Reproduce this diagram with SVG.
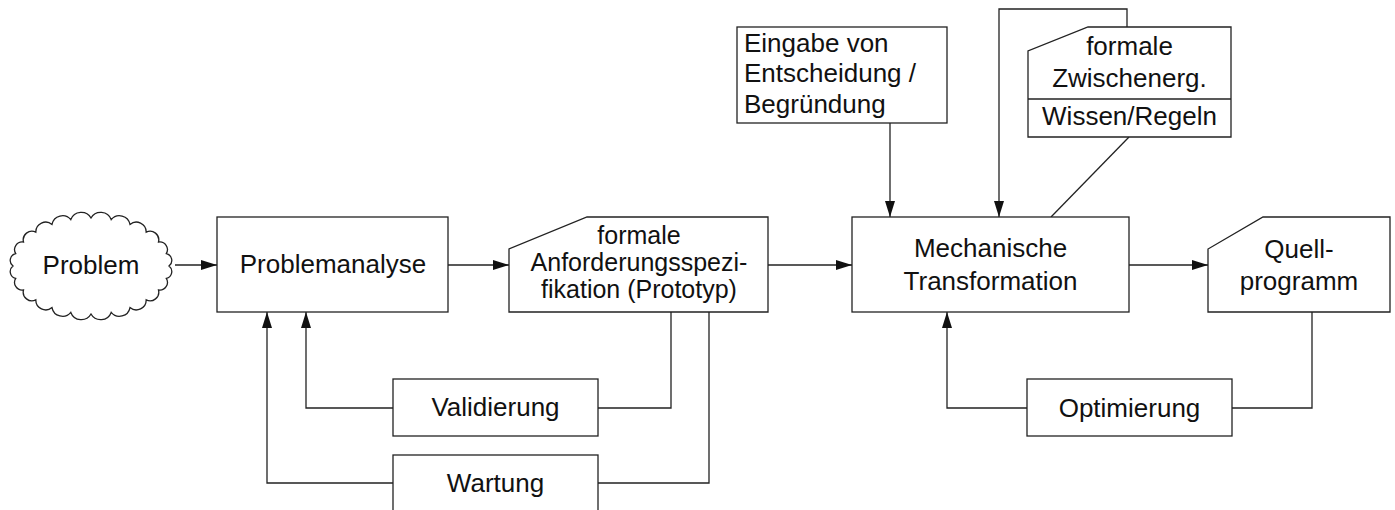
<svg xmlns="http://www.w3.org/2000/svg" width="1395" height="510" viewBox="0 0 1395 510">
<style>
.n{fill:#fff;stroke:#222;stroke-width:1.3}
.c{fill:none;stroke:#222;stroke-width:1.3}
text{font-family:"Liberation Sans",Arial,sans-serif;font-size:26px;fill:#111}
.m{text-anchor:middle}
</style>
<defs>
<marker id="ah" markerUnits="userSpaceOnUse" markerWidth="17" markerHeight="11" refX="16" refY="5" orient="auto">
<path d="M0,0 L16,5 L0,10 Z" fill="#111"/>
</marker>
</defs>
<rect width="1395" height="510" fill="#fff"/>
<g id="connectors">
<path class="c" d="M175,265 H217" marker-end="url(#ah)"/>
<path class="c" d="M448,265 H509" marker-end="url(#ah)"/>
<path class="c" d="M768,265 H852" marker-end="url(#ah)"/>
<path class="c" d="M1129,265 H1208" marker-end="url(#ah)"/>
<path class="c" d="M890,123 V217" marker-end="url(#ah)"/>
<path class="c" d="M1127,27 V9 H999 V217" marker-end="url(#ah)"/>
<path class="c" d="M1129,137 L1051,217"/>
<path class="c" d="M1312,312 V408 H1232"/>
<path class="c" d="M1027,408 H947 V312" marker-end="url(#ah)"/>
<path class="c" d="M671,312 V408 H598"/>
<path class="c" d="M393,408 H306 V312" marker-end="url(#ah)"/>
<path class="c" d="M709,312 V483 H598"/>
<path class="c" d="M393,483 H267 V312" marker-end="url(#ah)"/>
</g>
<g id="problem">
<path class="n" d="M169,266 A7,7 0 0 1 166.3,278.4 A7.7,7.7 0 0 1 158.5,290 A8.7,8.7 0 0 1 146.2,299.9 A9.9,9.9 0 0 1 130,307.6 A10.7,10.7 0 0 1 111.2,312.4 A11.2,11.2 0 0 1 91,314 A11.2,11.2 0 0 1 70.8,312.4 A10.7,10.7 0 0 1 52,307.6 A9.9,9.9 0 0 1 35.8,299.9 A8.7,8.7 0 0 1 23.5,290 A7.7,7.7 0 0 1 15.7,278.4 A7,7 0 0 1 13,266 A7,7 0 0 1 15.7,253.6 A7.7,7.7 0 0 1 23.5,242 A8.7,8.7 0 0 1 35.8,232.1 A9.9,9.9 0 0 1 52,224.4 A10.7,10.7 0 0 1 70.8,219.6 A11.2,11.2 0 0 1 91,218 A11.2,11.2 0 0 1 111.2,219.6 A10.7,10.7 0 0 1 130,224.4 A9.9,9.9 0 0 1 146.2,232.1 A8.7,8.7 0 0 1 158.5,242 A7.7,7.7 0 0 1 166.3,253.6 A7,7 0 0 1 169,266 Z"/>
<text class="m" x="91" y="274">Problem</text>
</g>
<g id="problemanalyse">
<rect class="n" x="217" y="217" width="231" height="95"/>
<text class="m" x="333" y="273">Problemanalyse</text>
</g>
<g id="spezifikation">
<path class="n" d="M587,217 H768 V312 H509 V249 Z"/>
<text class="m" x="639" y="244" style="font-size:25px">formale</text>
<text class="m" x="639" y="271" style="font-size:25px">Anforderungsspezi-</text>
<text class="m" x="639" y="298" style="font-size:25px">fikation (Prototyp)</text>
</g>
<g id="transformation">
<rect class="n" x="852" y="217" width="277" height="95"/>
<text class="m" x="990.5" y="257">Mechanische</text>
<text class="m" x="990.5" y="290">Transformation</text>
</g>
<g id="quellprogramm">
<path class="n" d="M1263,217 H1390 V312 H1208 V249 Z"/>
<text class="m" x="1299" y="258">Quell-</text>
<text class="m" x="1299" y="290">programm</text>
</g>
<g id="eingabe">
<rect class="n" x="737" y="27" width="210" height="96"/>
<text x="744" y="52">Eingabe von</text>
<text x="744" y="82">Entscheidung /</text>
<text x="744" y="113">Begründung</text>
</g>
<g id="zwischenergebnis">
<path class="n" d="M1088,27 H1231 V137 H1028 V51 Z"/>
<path class="c" d="M1028,99 H1231"/>
<text class="m" x="1129.5" y="55">formale</text>
<text class="m" x="1129.5" y="87">Zwischenerg.</text>
<text class="m" x="1129.5" y="125">Wissen/Regeln</text>
</g>
<g id="validierung">
<rect class="n" x="393" y="379" width="205" height="57"/>
<text class="m" x="495.5" y="416">Validierung</text>
</g>
<g id="wartung">
<rect class="n" x="393" y="455" width="205" height="62"/>
<text class="m" x="495.5" y="492">Wartung</text>
</g>
<g id="optimierung">
<rect class="n" x="1027" y="379" width="205" height="57"/>
<text class="m" x="1129.5" y="417">Optimierung</text>
</g>
</svg>
